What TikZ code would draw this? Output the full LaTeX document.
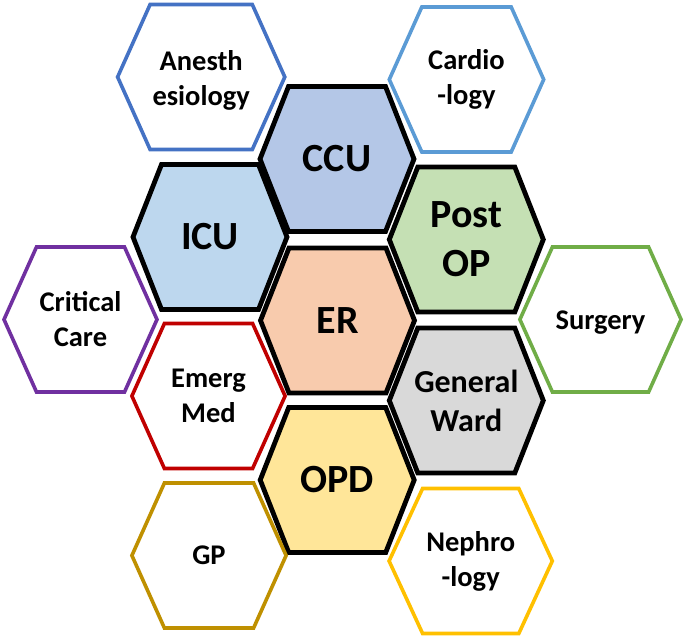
\documentclass[tikz,border=0pt]{standalone}
\usepackage{fontspec}
\setmainfont{Carlito}
\usepackage{tikz}
\usepackage{xcolor}

% fills of the inner wards
\definecolor{ccufill}{HTML}{B4C7E7}
\definecolor{icufill}{HTML}{BDD7EE}
\definecolor{erfill}{HTML}{F8CBAD}
\definecolor{postopfill}{HTML}{C5E0B4}
\definecolor{wardfill}{HTML}{D9D9D9}
\definecolor{opdfill}{HTML}{FFE699}
% rims of the outer departments
\definecolor{anesthrim}{HTML}{4472C4}
\definecolor{cardiorim}{HTML}{5B9BD5}
\definecolor{criticalrim}{HTML}{7030A0}
\definecolor{emergrim}{HTML}{C00000}
\definecolor{surgeryrim}{HTML}{70AD47}
\definecolor{gprim}{HTML}{BF9000}
\definecolor{nephrorim}{HTML}{FFC000}

% hexagon: centre x, centre y, half width, corner cut
\newcommand{\hexcell}[4]{(#1-#3,#2) -- (#1-#3+#4,#2-72.5) -- (#1+#3-#4,#2-72.5) -- (#1+#3,#2) -- (#1+#3-#4,#2+72.5) -- (#1-#3+#4,#2+72.5) -- cycle}

\begin{document}
\begin{tikzpicture}[x=1pt, y=-1pt, every node/.style={font=\bfseries}]
\tikzstyle{corecell}=[draw=black, line width=4.8pt]
\tikzstyle{ringcell}=[fill=white, line width=3.6pt]
\tikzstyle{bigtag}=[font=\fontsize{40}{49}\selectfont\bfseries, align=center]
\tikzstyle{midtag}=[font=\fontsize{32}{39}\selectfont\bfseries, align=center]
\tikzstyle{smalltag}=[font=\fontsize{28.5}{35}\selectfont\bfseries, align=center]

\useasboundingbox (0,0) rectangle (685,638);

% Inner wards
\draw[corecell, fill=ccufill] \hexcell{337}{159}{77}{28.5};
\draw[corecell, fill=icufill] \hexcell{210}{237}{77}{28.5};
\draw[corecell, fill=erfill] \hexcell{337.5}{320.5}{77}{28.5};
\draw[corecell, fill=postopfill] \hexcell{466.3}{239.5}{77}{28.5};
\draw[corecell, fill=wardfill] \hexcell{466.3}{400.5}{77}{28.5};
\draw[corecell, fill=opdfill] \hexcell{337.2}{480}{77}{28.5};

\node[bigtag] (ccu) at (337,159) {CCU};
\node[bigtag] (icu) at (210,237) {ICU};
\node[bigtag] (er) at (337.5,320.5) {ER};
\node[bigtag] (postop) at (466.3,239.5) {Post\\OP};
\node[midtag] (ward) at (466.3,400.5) {General\\Ward};
\node[bigtag] (opd) at (337.2,480) {OPD};

% Outer departments
\draw[ringcell, draw=anesthrim] \hexcell{201.2}{77}{83.6}{32.5};
\draw[ringcell, draw=cardiorim] \hexcell{466.5}{79.5}{77.2}{32.5};
\draw[ringcell, draw=criticalrim] \hexcell{80.5}{319.5}{76.5}{32.5};
\draw[ringcell, draw=emergrim] \hexcell{208.5}{396}{76.6}{32.5};
\draw[ringcell, draw=surgeryrim] \hexcell{600.5}{319.5}{80.6}{32.5};
\draw[ringcell, draw=gprim] \hexcell{209}{555.5}{77.1}{32.5};
\draw[ringcell, draw=nephrorim] \hexcell{470.7}{561}{81.6}{33.5};

\node[smalltag] (anesth) at (201.2,80) {Anesth\\esiology};
\node[smalltag] (cardio) at (466.5,79.5) {Cardio\\-logy};
\node[smalltag] (critical) at (80.5,319.5) {Critical\\Care};
\node[smalltag] (emerg) at (208.5,396) {Emerg\\Med};
\node[smalltag] (surgery) at (600.5,323) {Surgery};
\node[smalltag] (gp) at (209,555.5) {GP};
\node[smalltag] (nephro) at (470.7,561) {Nephro\\-logy};
\end{tikzpicture}
\end{document}
